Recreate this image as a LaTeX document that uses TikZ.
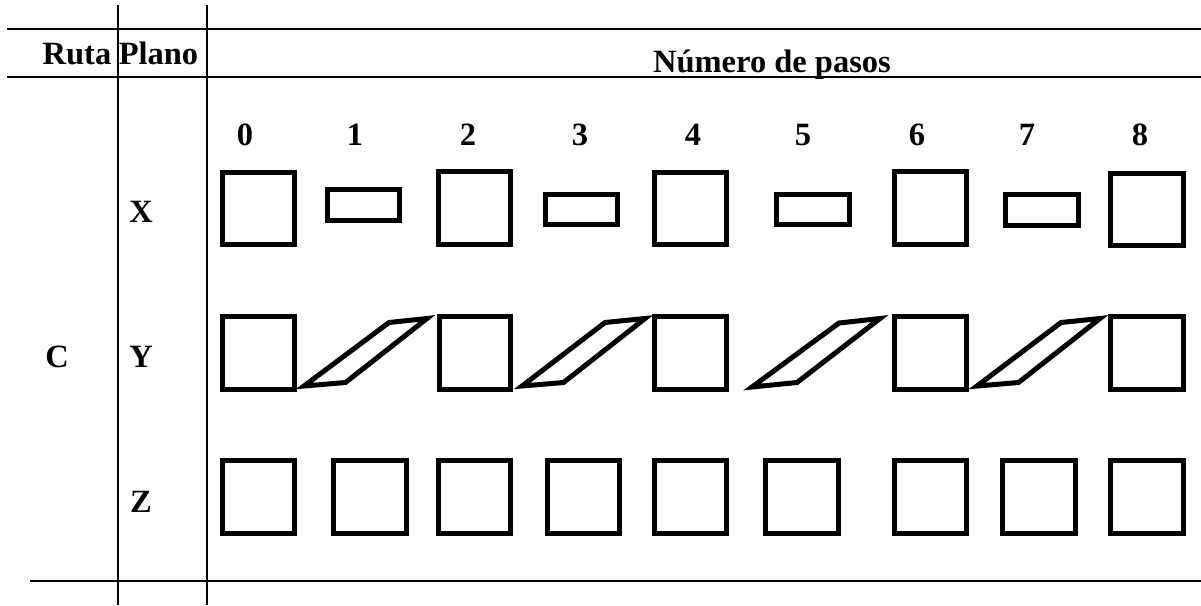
\documentclass[tikz,border=0pt]{standalone}
\usepackage{fontspec}
\setmainfont{Liberation Serif}
\begin{document}
\begin{tikzpicture}[x=1pt,y=-1pt,
  rule/.style={line width=1.5pt},
  shp/.style={line width=5pt, line join=miter},
  lbl/.style={font=\fontsize{32.5}{38}\selectfont\bfseries, inner sep=0pt, anchor=base}]
\useasboundingbox (0,0) rectangle (1201,605);
% table rules
\draw[rule] (7,29) -- (1201,29);
\draw[rule] (7,77) -- (1201,77);
\draw[rule] (30,581) -- (1201,581);
\draw[rule] (118,5) -- (118,605);
\draw[rule] (207,5) -- (207,605);
% header texts
\node[lbl] (ruta) at (77,64) {Ruta};
\node[lbl] (plano) at (158.5,64) {Plano};
\node[lbl] (pasos) at (772,72) {Número de pasos};
% step numbers
\foreach \n/\x in {0/245,1/355,2/468,3/580,4/693,5/803,6/917,7/1027,8/1140}
  \node[lbl] (num\n) at (\x,145) {\n};
% row labels
\node[lbl] (labC) at (57,367) {C};
\node[lbl] (labX) at (141,222) {X};
\node[lbl] (labY) at (141,367) {Y};
\node[lbl] (labZ) at (141,512) {Z};
% row X
\draw[shp] (222.5,172.5) rectangle (294.5,244.5);
\draw[shp] (327.5,189.5) rectangle (399.5,220.5);
\draw[shp] (438.5,171.5) rectangle (510.5,244.5);
\draw[shp] (545.5,194.5) rectangle (617.5,224.5);
\draw[shp] (654.5,172.5) rectangle (726.5,244.5);
\draw[shp] (776.5,194.5) rectangle (849.5,224.5);
\draw[shp] (894.5,171.5) rectangle (966.5,244.5);
\draw[shp] (1005.5,194.5) rectangle (1078.5,225.5);
\draw[shp] (1110.5,173.5) rectangle (1183.5,245.5);
% row Y
\foreach \a/\b in {222.5/294.5,439.5/510.5,654.5/726.5,894.5/966.5,1110.5/1183.5}
  \draw[shp] (\a,316.5) rectangle (\b,389.5);
\draw[shp] (304,386) -- (345.5,382.5) -- (427,318.5) -- (389,322.5) -- cycle;
\draw[shp] (522,386) -- (563.5,382.5) -- (645,318.5) -- (605,322.5) -- cycle;
\draw[shp] (752,387) -- (797,382.5) -- (880,318.5) -- (839,323) -- cycle;
\draw[shp] (977,386) -- (1018.5,382.5) -- (1100,318.5) -- (1061,322.5) -- cycle;
% row Z
\foreach \a/\b in {222.5/294.5,333.5/406.5,438.5/510.5,547.5/619.5,654.5/726.5,765.5/838.5,894.5/966.5,1002.5/1075.5,1110.5/1183.5}
  \draw[shp] (\a,460.5) rectangle (\b,533.5);
\end{tikzpicture}
\end{document}
